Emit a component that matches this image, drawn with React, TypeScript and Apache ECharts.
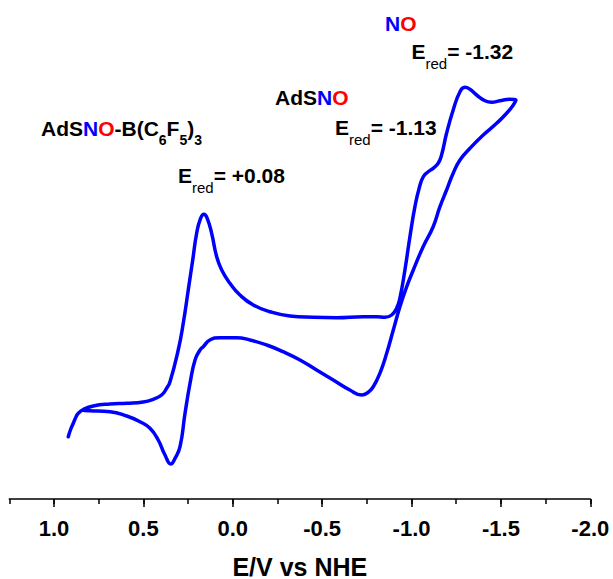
import React, { useEffect, useRef } from "react";
import * as echarts from "echarts";

// Cyclic voltammogram: potential (V vs NHE) and current (arbitrary units),
// forward scan from +0.92 V to -1.58 V, then the return scan.
const potentials: number[] = [
  0.92, 0.908, 0.892, 0.877, 0.864, 0.836, 0.78, 0.687, 0.593, 0.501, 0.445,
  0.398, 0.37, 0.351, 0.305, 0.277, 0.249, 0.224, 0.202, 0.18, 0.161, 0.143,
  0.118, 0.09, 0.062, 0.016, -0.04, -0.115, -0.208, -0.32, -0.45, -0.581,
  -0.73, -0.805, -0.851, -0.889, -0.917, -0.935, -0.963, -0.991, -1.019,
  -1.043, -1.065, -1.093, -1.121, -1.149, -1.168, -1.196, -1.233, -1.271,
  -1.299, -1.327, -1.364, -1.411, -1.448, -1.494, -1.55, -1.584,
  -1.569, -1.532, -1.476, -1.401, -1.327, -1.271, -1.233, -1.196, -1.159,
  -1.121, -1.065, -1.01, -0.973, -0.935, -0.898, -0.861, -0.823, -0.786,
  -0.756, -0.721, -0.655, -0.562, -0.469, -0.376, -0.282, -0.19, -0.096,
  -0.022, 0.072, 0.128, 0.165, 0.183, 0.211, 0.239, 0.267, 0.295, 0.323,
  0.347, 0.379, 0.417, 0.463, 0.519, 0.593, 0.687, 0.799, 0.832,
];

const currents: number[] = [
  6.23, 6.9, 7.57, 8.2, 8.57, 8.95, 9.3, 9.5, 9.57, 9.7, 9.97, 10.4, 11.07,
  11.73, 14.9, 17.57, 20.9, 23.9, 26.57, 28.07, 28.47, 28.07, 26.57, 24.23,
  22.9, 21.57, 20.4, 19.4, 18.73, 18.3, 18.17, 18.13, 18.23, 18.23, 18.17,
  18.4, 19.1, 20.1, 22.9, 26.23, 29.23, 31.1, 32.2, 32.73, 33.07, 33.57,
  34.4, 36.57, 38.9, 40.73, 41.17, 40.97, 40.4, 39.83, 39.67, 39.83, 39.97,
  39.9,
  39.4, 38.57, 37.57, 36.4, 35.07, 33.9, 32.57, 30.9, 29.23, 27.23, 25.23,
  22.9, 21.23, 19.23, 16.9, 14.57, 12.57, 11.23, 10.65, 10.4, 10.9, 11.9,
  12.9, 13.9, 14.73, 15.4, 15.9, 16.13, 16.13, 15.9, 15.23, 14.9, 13.9,
  11.57, 8.57, 5.23, 4.07, 3.5, 4.4, 5.9, 7.07, 7.73, 8.3, 8.73, 8.83, 8.85,
];

const axisMin = -2.0;
const axisMax = 1.25;
const majorStep = 0.5;
const minorStep = 0.25;
const axisTitle = "E/V vs NHE";

const FONT = "'Liberation Sans', Arial, Helvetica, sans-serif";
const BLUE = "#0000ff";
const RED = "#ff0000";

const richStyles = {
  b: { fontSize: 21, fontWeight: "bold", fontFamily: FONT, fill: "#000" },
  n: { fontSize: 21, fontWeight: "bold", fontFamily: FONT, fill: BLUE },
  o: { fontSize: 21, fontWeight: "bold", fontFamily: FONT, fill: RED },
  s: { fontSize: 14, fontWeight: "bold", fontFamily: FONT, fill: "#000", padding: [24, 0, 0, 0] },
  r: { fontSize: 15, fontWeight: "normal", fontFamily: FONT, fill: "#000", padding: [24, 0, 0, 0] },
};

function label(x: number, y: number, text: string) {
  return {
    type: "text",
    x,
    y,
    style: {
      text,
      rich: richStyles,
      align: "left",
      verticalAlign: "middle",
    },
  };
}

export default function App() {
  const ref = useRef<HTMLDivElement>(null);

  useEffect(() => {
    if (!ref.current) return;
    const chart = echarts.init(ref.current, undefined, { renderer: "svg" });
    const data = potentials.map((e, i) => [e, currents[i]]);

    const commonX = {
      type: "value",
      min: axisMin,
      max: axisMax,
      inverse: true,
      position: "bottom",
      splitLine: { show: false },
    };

    chart.setOption({
      animation: false,
      backgroundColor: "#fff",
      grid: {
        left: 9.3,
        right: 22.7,
        top: 9,
        bottom: 80,
        containLabel: false,
        outerBoundsMode: "none",
      },
      xAxis: [
        {
          ...commonX,
          interval: majorStep,
          axisLine: { show: true, lineStyle: { color: "#000", width: 1.5 } },
          axisTick: { show: true, length: 8, lineStyle: { color: "#000", width: 1.5 } },
          axisLabel: {
            show: true,
            showMaxLabel: false,
            margin: 18,
            fontSize: 22,
            fontWeight: "bold",
            fontFamily: FONT,
            color: "#000",
            formatter: (v: number) => v.toFixed(1),
          },
          name: axisTitle,
          nameLocation: "middle",
          nameGap: 55,
          nameTextStyle: { fontSize: 25, fontWeight: "bold", fontFamily: FONT, color: "#000" },
        },
        {
          ...commonX,
          interval: minorStep,
          axisLine: { show: false },
          axisTick: { show: true, length: 5, lineStyle: { color: "#000", width: 1.5 } },
          axisLabel: { show: false },
        },
      ],
      yAxis: {
        type: "value",
        min: 0,
        max: 49,
        show: false,
        splitLine: { show: false },
      },
      series: [
        {
          type: "line",
          data,
          xAxisIndex: 0,
          yAxisIndex: 0,
          smooth: 0.5,
          symbol: "none",
          lineStyle: { color: BLUE, width: 3.5, cap: "round", join: "round" },
        },
      ],
      graphic: [
        label(41, 128.3, "{b|AdS}{n|N}{o|O}{b|-B(C}{s|6}{b|F}{s|5}{b|)}{s|3}"),
        label(178, 175, "{b|E}{r|red}{b|= +0.08}"),
        label(275, 97, "{b|AdS}{n|N}{o|O}"),
        label(335, 127.5, "{b|E}{r|red}{b|= -1.13}"),
        label(385, 23.7, "{n|N}{o|O}"),
        label(411.5, 51.7, "{b|E}{r|red}{b|= -1.32}"),
      ],
    });

    return () => chart.dispose();
  }, []);

  return (
    <div
      ref={ref}
      style={{ position: "fixed", left: 0, top: 0, width: 613, height: 579, background: "#fff" }}
    />
  );
}
